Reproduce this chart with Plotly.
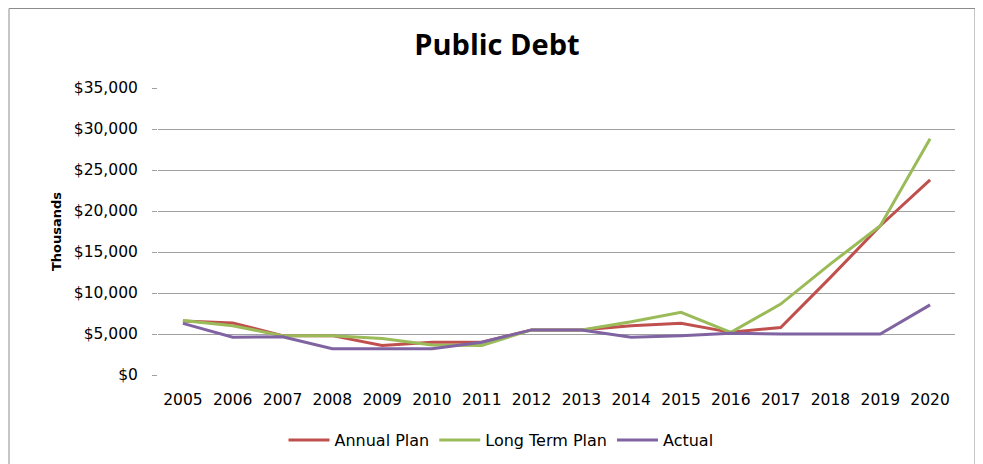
import plotly.graph_objects as go

years = [str(y) for y in range(2005, 2021)]
annual_plan = [6600, 6350, 4800, 4800, 3600, 4000, 4000, 5500, 5500, 6000, 6300, 5200, 5800, 11900, 18200, 23800]
long_term_plan = [6650, 6000, 4800, 4800, 4450, 3650, 3600, 5500, 5500, 6500, 7650, 5200, 8650, 13550, 18200, 28800]
actual = [6300, 4600, 4650, 3200, 3200, 3200, 4000, 5500, 5500, 4600, 4800, 5100, 5000, 5000, 5000, 8550]
y_ticks = [0, 5000, 10000, 15000, 20000, 25000, 30000, 35000]
y_tick_labels = ["$0", "$5,000", "$10,000", "$15,000", "$20,000", "$25,000", "$30,000", "$35,000"]

tick_font = "DejaVu Sans, Verdana, sans-serif"
title_font = "Open Sans, sans-serif"

W, H = 975, 456
L, R, T, B = 150, 28, 80, 89
pw, ph = W - L - R, H - T - B

fig = go.Figure()
for name, vals, color in [
    ("Annual Plan", annual_plan, "#C0504D"),
    ("Long Term Plan", long_term_plan, "#9BBB59"),
    ("Actual", actual, "#8064A2"),
]:
    fig.add_trace(go.Scatter(x=years, y=vals, name=name, mode="lines",
                             line=dict(color=color, width=3)))

fig.update_layout(
    width=W, height=H,
    margin=dict(l=L, r=R, t=T, b=B, autoexpand=False),
    paper_bgcolor="white", plot_bgcolor="white",
    font=dict(family=tick_font, size=15.5, color="#000"),
    title=dict(text="<b>Public Debt</b>", x=0.5015, xanchor="center", xref="container",
               y=1 - 37 / H, yanchor="middle", yref="container",
               font=dict(family=title_font, size=29, color="#000")),
    legend=dict(orientation="h", x=(493 - L) / pw, xanchor="center",
                y=-65 / ph, yanchor="middle", itemwidth=41,
                font=dict(family=tick_font, size=16, color="#000")),
    showlegend=True,
    xaxis=dict(type="category", showgrid=False, showline=False, ticks="",
               range=[-0.5, 15.5], tickfont=dict(size=15.5), ticklabelstandoff=13,
               automargin=False),
    yaxis=dict(range=[0, 35000], tickvals=y_ticks, ticktext=y_tick_labels,
               showgrid=True, gridcolor="#A0A0A0", gridwidth=1, zeroline=False,
               showline=False, ticks="outside", ticklen=5, tickcolor="#A0A0A0",
               ticklabelstandoff=11, tickfont=dict(size=15.5), automargin=False,
               title=dict(text="<b>Thousands</b>", font=dict(family=tick_font, size=13),
                          standoff=9)),
    shapes=[dict(type="rect", xref="paper", yref="paper",
                 x0=(1 - L) / pw, x1=(967 - L) / pw,
                 y0=-(B + 20) / ph,
                 y1=(ph + T - 0.5) / ph,
                 line=dict(color="#8C8C8C", width=1), fillcolor="rgba(0,0,0,0)", layer="below")],
)

fig.write_html("out.html")
